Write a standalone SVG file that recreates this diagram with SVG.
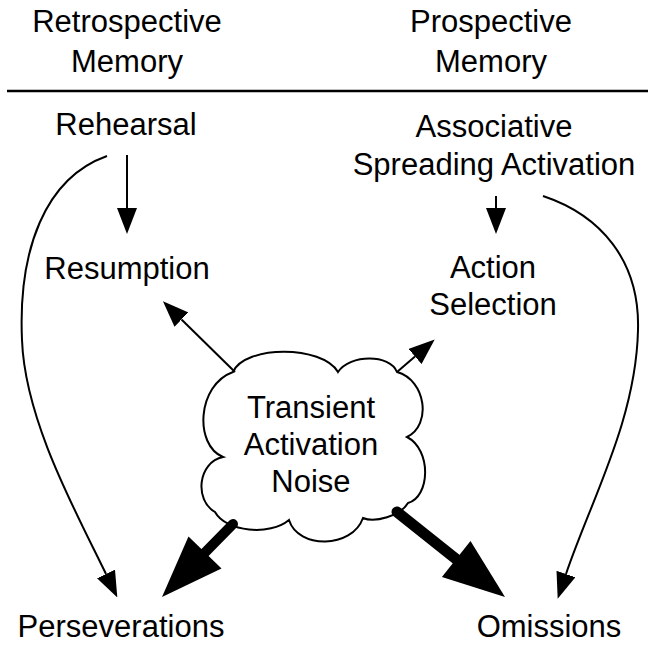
<svg xmlns="http://www.w3.org/2000/svg" width="648" height="645" viewBox="0 0 648 645">
<style>
text{font-family:"Liberation Sans",Arial,Helvetica,sans-serif;font-size:31px;fill:#000;text-anchor:middle}
.thin{fill:none;stroke:#000;stroke-width:2}
.heavy{fill:none;stroke:#000;stroke-linecap:round}
</style>
<defs>
<marker id="ah" viewBox="0 0 26 20" refX="0" refY="10" markerWidth="26" markerHeight="20" markerUnits="userSpaceOnUse" orient="auto">
<path d="M0,0 L26,10 L0,20 Z" fill="#000"/>
</marker>
</defs>
<rect width="648" height="645" fill="#fff"/>
<g id="headers">
<text x="127" y="32">Retrospective</text>
<text x="127" y="72">Memory</text>
<text x="491" y="32">Prospective</text>
<text x="491" y="72">Memory</text>
<line x1="7" y1="91" x2="648" y2="91" stroke="#000" stroke-width="2.5"/>
</g>
<g id="rehearsal"><text x="126" y="135">Rehearsal</text></g>
<g id="associative"><text x="494" y="137">Associative</text><text x="494" y="175">Spreading Activation</text></g>
<g id="resumption"><text x="127" y="279">Resumption</text></g>
<g id="action-selection"><text x="493" y="278">Action</text><text x="493" y="315">Selection</text></g>
<g id="noise">
<path d="M233,372 C245,345 322,345 338,372 C350,354 390,354 397,372 C426,380 432,425 407,437 C432,450 430,497 408,503 C400,516 375,523 363,518 C352,549 298,549 289,520 C270,536 226,532 215,512 C194,500 198,462 223,457 C194,445 197,385 233,372 Z" fill="#fff" stroke="#000" stroke-width="2"/>
<text x="311" y="418">Transient</text>
<text x="311" y="455">Activation</text>
<text x="311" y="492">Noise</text>
</g>
<g id="perseverations"><text x="121" y="637">Perseverations</text></g>
<g id="omissions"><text x="549" y="637">Omissions</text></g>
<g id="connectors">
<path class="thin" d="M127,155 L127,208" marker-end="url(#ah)"/>
<path class="thin" d="M496,196 L496,208" marker-end="url(#ah)"/>
<path class="thin" d="M235,372 L181.5,319.5" marker-end="url(#ah)"/>
<path class="thin" d="M397,372 L415,356.5" marker-end="url(#ah)"/>
<path class="thin" d="M107,156 C45,178 18,250 22,340 C25,420 75,510 106,574" marker-end="url(#ah)"/>
<path class="thin" d="M543,196 C600,215 640,260 638,330 C636,420 591,500 566,574" marker-end="url(#ah)"/>
<line class="heavy" x1="233" y1="524" x2="205" y2="552.5" stroke-width="10"/>
<polygon points="162,597 188.5,536.5 221.5,568.5" fill="#000"/>
<line class="heavy" x1="397" y1="512" x2="456" y2="559" stroke-width="11"/>
<polygon points="505,597 470.5,540.9 441.9,577.1" fill="#000"/>
</g>
</svg>
